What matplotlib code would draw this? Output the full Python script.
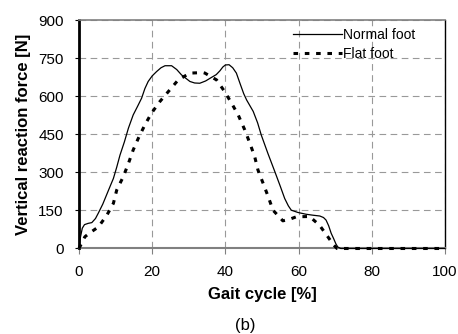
import matplotlib.pyplot as plt

plt.rcParams['font.family'] = ['Liberation Sans', 'DejaVu Sans']

# gait cycle [%] and vertical reaction force [N]
normal_x = [0, 0.4, 0.9, 1.5, 2.5, 3.5, 4.5, 5.3, 6.5, 7.5, 8.5, 9.4, 10.3, 11.2, 12.4,
            13.5, 14.8, 16.0, 17.1, 18.0, 18.9, 20.0, 21.2, 22.4, 23.5, 25.3, 26.7,
            28.0, 30.3, 31.6, 33.0, 34.6, 36.2, 37.5, 38.5, 39.3, 40.0, 41.0, 42.0,
            43.0, 44.0, 45.0, 45.8, 47.6, 48.8, 49.8, 51.6, 53.5, 55.0, 56.2, 57.2,
            58.0, 59.8, 62.0, 64.0, 65.8, 66.8, 67.5, 68.2, 68.9, 69.6, 70.2, 70.7,
            71.5, 100]
normal_y = [0, 45, 80, 94, 99, 102, 118, 140, 175, 210, 245, 276, 320, 368, 420,
            474, 526, 560, 592, 630, 658, 680, 697, 712, 720, 720, 705,
            684, 658, 652, 651, 660, 674, 685, 700, 715, 723, 724, 712,
            691, 650, 610, 585, 540, 495, 447, 375, 303, 245, 197, 168,
            151, 142, 135, 131, 128, 122, 112, 90, 60, 38, 18, 6,
            0, 0]

flat_x = [0, 1.6, 2.7, 5.3, 7.6, 9.4, 10.3, 12.1, 13.5, 14.8, 16.2, 18.0, 19.8, 22.1,
          24.4, 27.1, 30.3, 33.9, 34.4, 37.6, 39.8, 41.7, 43.5, 45.3, 46.7, 48.0,
          48.9, 50.3, 51.7, 53.0, 55.7, 57.5, 59.4, 63.0, 65.7, 68.0, 69.5, 70.5, 100]
flat_y = [0, 46, 59, 85, 131, 178, 230, 283, 335, 388, 434, 487, 533, 579,
          618, 664, 691, 693, 691, 664, 618, 572, 526, 467, 414, 362,
          309, 257, 204, 151, 109, 115, 125, 126, 92, 46, 15, 0, 0]

x_ticks = [0, 20, 40, 60, 80, 100]
y_ticks = [0, 150, 300, 450, 600, 750, 900]

fig = plt.figure(figsize=(4.58, 3.34), dpi=100)
ax = fig.add_axes([0.1725, 0.256, 0.7991, 0.684])

ax.plot(normal_x, normal_y, color='black', lw=0.9, label='Normal foot',
        zorder=3, clip_on=False)
ax.plot(flat_x, flat_y, color='black', lw=2.2, dashes=(1.5, 2.2), label='Flat foot',
        zorder=3, clip_on=False)

ax.set_xlim(0, 100)
ax.set_ylim(0, 900)
ax.set_xticks(x_ticks)
ax.set_yticks(y_ticks)
ax.grid(True, color='#999999', ls=(0, (6, 4)), lw=0.8)
ax.set_axisbelow(True)

ax.spines['left'].set_linewidth(2)
ax.spines['left'].set_color('black')
ax.spines['bottom'].set_linewidth(1.5)
ax.spines['bottom'].set_color('#808080')
ax.spines['top'].set_color('#808080')
ax.spines['top'].set_linewidth(1.2)
ax.spines['right'].set_linewidth(1.0)

ax.tick_params(axis='x', length=4, color='#808080', labelsize=11, pad=8)
ax.tick_params(axis='y', length=3, color='black', labelsize=11, pad=8)

ax.set_xlabel('Gait cycle [%]', fontsize=12, fontweight='bold', labelpad=6)
ax.set_ylabel('Vertical reaction force [N]', fontsize=12, fontweight='bold', labelpad=5)

ax.legend(loc='upper left', bbox_to_anchor=(0.57, 0.99), frameon=False, fontsize=10,
          handlelength=3.5, handletextpad=0.1, borderaxespad=0.0, labelspacing=0.35)

fig.text(0.535, 0.024, '(b)', ha='center', va='center', fontsize=12)

fig.savefig('out.png', dpi=100)
